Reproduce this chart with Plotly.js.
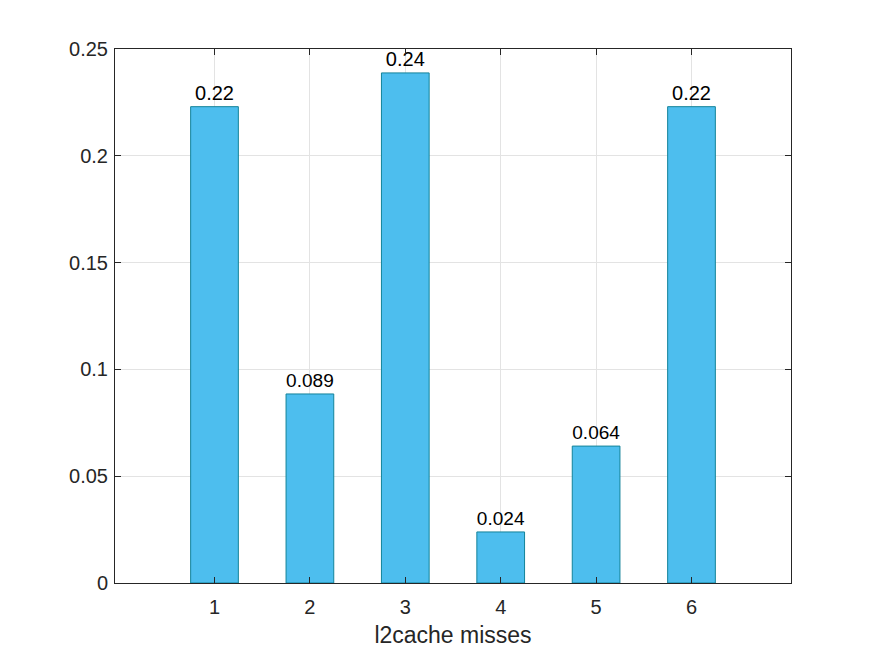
<!DOCTYPE html>
<html>
<head>
<meta charset="utf-8">
<script src="https://cdn.plot.ly/plotly-3.0.1.min.js"></script>
<style>html,body{margin:0;padding:0;background:#fff;}</style>
</head>
<body>
<div id="chart" style="width:875px;height:656px;"></div>
<script>
const categories = [1, 2, 3, 4, 5, 6];
const values = [0.223, 0.0885, 0.2388, 0.0239, 0.0641, 0.223];
const labels = ["0.22", "0.089", "0.24", "0.024", "0.064", "0.22"];
const yTicks = [0, 0.05, 0.1, 0.15, 0.2, 0.25];
const yTickText = ["0", "0.05", "0.1", "0.15", "0.2", "0.25"];
const xTitle = "l2cache misses";

const FONT = 'Liberation Sans, Arial, sans-serif';

const trace = {
  type: 'bar',
  x: categories,
  y: values,
  width: 0.5,
  text: labels,
  textposition: 'outside',
  cliponaxis: false,
  textfont: {family: FONT, size: 20, color: '#000'},
  marker: {color: '#4DBEEE', line: {color: '#13839a', width: 1}},
  hoverinfo: 'none'
};

const axisCommon = {
  showline: true, linecolor: '#262626', linewidth: 1, mirror: 'allticks',
  ticks: 'inside', ticklen: 6, tickcolor: '#262626',
  showgrid: true, gridcolor: '#e3e3e3', gridwidth: 1,
  zeroline: false,
  tickfont: {family: FONT, size: 20, color: '#262626'}
};

const layout = {
  width: 875, height: 656,
  margin: {l: 114.7, r: 83.7, t: 49.3, b: 73, pad: 0},
  paper_bgcolor: '#fff', plot_bgcolor: '#fff',
  showlegend: false,
  xaxis: Object.assign({}, axisCommon, {
    range: [-0.043, 7.043],
    tickvals: categories,
    ticktext: categories.map(String),
    ticklabelstandoff: 6,
    title: {text: xTitle, font: {family: FONT, size: 23, color: '#262626'}, standoff: 9}
  }),
  yaxis: Object.assign({}, axisCommon, {
    range: [0, 0.25],
    tickvals: yTicks,
    ticktext: yTickText,
    ticklabelstandoff: 2
  })
};

Plotly.newPlot('chart', [trace], layout, {staticPlot: true, displayModeBar: false});
</script>
</body>
</html>
